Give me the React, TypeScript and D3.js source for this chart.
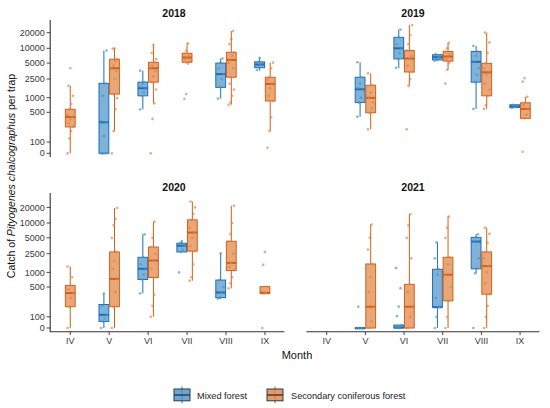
import * as d3 from "d3";

// month classes, forest types and the facet years
const months = ["IV", "V", "VI", "VII", "VIII", "IX"];
const forestNames = ["Mixed forest", "Secondary coniferous forest"];
const yTicks = [0, 100, 500, 1000, 2500, 5000, 10000, 20000];

// [month, forest (M = mixed, S = secondary), lower whisker, q1, median, q3, upper whisker, trap catches]
type Box = [string, "M" | "S", number, number, number, number, number, number[]];

const box2018: Box[] = [
  ["IV", "S", 0, 250, 405, 580, 1800, [0, 130, 200, 250, 300, 360, 405, 450, 580, 750, 1100, 1800, 4000]],
  ["V", "M", 0, 0, 315, 2030, 9000, [0, 0, 0, 0, 0, 150, 315, 330, 1100, 2000, 9000]],
  ["V", "S", 200, 1200, 4000, 6000, 10000, [0, 200, 580, 980, 1200, 2500, 3500, 4000, 4500, 5500, 6000, 9800, 10000]],
  ["VI", "M", 580, 1100, 1600, 2150, 3600, [580, 1100, 1300, 1600, 1700, 2000, 2150, 3600]],
  ["VI", "S", 770, 2150, 4000, 5200, 11700, [0, 370, 770, 1500, 2150, 2800, 3500, 4000, 4500, 5200, 6000, 8000, 11700]],
  ["VII", "S", 4900, 5200, 6500, 7900, 12500, [950, 1200, 4900, 5500, 6000, 6500, 7000, 7900, 9000, 12500]],
  ["VIII", "M", 960, 1670, 3100, 5000, 6200, [960, 1700, 2500, 3100, 4000, 5000, 6200]],
  ["VIII", "S", 720, 2700, 5800, 8300, 21500, [720, 800, 1100, 1500, 2000, 2700, 4000, 5000, 5800, 7000, 8300, 12000, 15000, 21500]],
  ["IX", "M", 3600, 4100, 4700, 5300, 6400, [3700, 4200, 4700, 5000, 5300, 6400]],
  ["IX", "S", 200, 860, 1970, 2700, 5100, [40, 200, 400, 860, 1100, 1600, 2000, 2400, 2700, 4000, 5100]],
];

const box2019: Box[] = [
  ["V", "M", 410, 800, 1520, 2700, 5200, [410, 800, 1000, 1500, 1600, 2000, 2700, 5200]],
  ["V", "S", 220, 490, 990, 1850, 3200, [220, 490, 600, 800, 1000, 1300, 1850, 3200]],
  ["VI", "M", 4050, 6100, 10000, 16300, 23000, [4050, 6100, 8000, 10000, 12000, 16300, 23000]],
  ["VI", "S", 1800, 3400, 6200, 9000, 28000, [220, 1800, 2500, 3400, 4500, 6200, 7000, 9000, 12000, 18000, 28000]],
  ["VII", "M", 5600, 5800, 6600, 7400, 7600, [5600, 6000, 6600, 7000, 7600]],
  ["VII", "S", 3750, 5500, 6800, 8600, 12800, [2000, 3750, 5000, 5500, 6000, 6800, 7500, 8600, 10000, 12800]],
  ["VIII", "M", 590, 2150, 5300, 8600, 11100, [590, 2150, 3000, 4000, 5300, 7000, 8600, 11100]],
  ["VIII", "S", 590, 1100, 3350, 4950, 20000, [590, 700, 1100, 1500, 2000, 3000, 3350, 4000, 4950, 8000, 13000, 20000]],
  ["IX", "M", 630, 630, 680, 720, 720, [620, 650, 680, 700, 720]],
  ["IX", "S", 380, 380, 590, 790, 1050, [10, 380, 450, 590, 700, 790, 1050, 2200, 2600]],
];

const box2020: Box[] = [
  ["IV", "S", 0, 190, 380, 540, 1340, [0, 190, 300, 380, 450, 540, 800, 1340]],
  ["V", "M", 0, 50, 115, 215, 370, [0, 50, 80, 115, 200, 370]],
  ["V", "S", 0, 190, 740, 2700, 19500, [0, 190, 400, 740, 1200, 1800, 2700, 5000, 9000, 12000, 19500]],
  ["VI", "M", 375, 720, 1200, 2100, 5900, [375, 720, 900, 1200, 1500, 2100, 5900]],
  ["VI", "S", 100, 790, 1800, 3350, 10600, [100, 200, 350, 790, 1200, 1800, 2500, 3350, 5000, 10600]],
  ["VII", "M", 2700, 2700, 3550, 3950, 4350, [1000, 2700, 3000, 3550, 3950, 4350]],
  ["VII", "S", 680, 2800, 6400, 11500, 26000, [680, 800, 1500, 2800, 3500, 5000, 6400, 8000, 11500, 15000, 20000, 26000]],
  ["VIII", "M", 290, 305, 390, 700, 2550, [290, 305, 390, 500, 700, 2550]],
  ["VIII", "S", 470, 1100, 1600, 4300, 21500, [470, 600, 800, 1100, 1300, 1600, 2500, 4300, 6000, 10000, 21500]],
  ["IX", "S", 370, 370, 385, 510, 510, [0, 370, 385, 510, 1450, 2700]],
];

const box2021: Box[] = [
  ["V", "M", 0, 0, 0, 0, 0, [0, 0, 0, 0, 190]],
  ["V", "S", 0, 0, 190, 1520, 9300, [0, 0, 50, 190, 400, 800, 1520, 3000, 5000, 9300]],
  ["VI", "M", 0, 0, 3, 20, 20, [0, 0, 0, 20, 105, 190, 475, 1250]],
  ["VI", "S", 0, 0, 190, 570, 14700, [0, 0, 100, 190, 400, 570, 2000, 5000, 9000, 14700]],
  ["VII", "M", 0, 185, 185, 1170, 4100, [0, 100, 185, 190, 300, 900, 1170, 2000, 4100]],
  ["VII", "S", 0, 260, 900, 2100, 13300, [0, 100, 260, 500, 900, 1500, 2100, 5000, 8000, 13300]],
  ["VIII", "M", 960, 1200, 4250, 5100, 5900, [0, 960, 1200, 2000, 4250, 5100, 5900]],
  ["VIII", "S", 0, 360, 1370, 2700, 8000, [0, 100, 200, 360, 600, 1000, 1370, 2000, 2700, 4000, 6000, 8000]],
];

const FONT = "'Liberation Sans', Arial, Helvetica, sans-serif";
const STROKE = { M: "#1f6fb2", S: "#d2601a" };
const FILL = { M: "#4a90c8", S: "#e0813f" };
// where the y tick values sit above the zero line (axis is compressed near zero)
const TICK_OFFSETS = [0, 11.2, 41, 55.6, 74.3, 90.2, 105, 120.6];
const BOX_W = 9.8;
const DODGE = 5.3;

const tf = (v: number) => Math.log10(1 + v / 100);

const panels = [
  { year: "2018", data: box2018, x0: 50.8, x1: 284.4, zero: 153.3, top: 20, bottom: 157, titleX: 174, titleY: 16.5, xAxis: false, yAxis: true },
  { year: "2019", data: box2019, x0: 307.4, x1: 539.4, zero: 153.3, top: 20, bottom: 157, titleX: 413, titleY: 16.5, xAxis: false, yAxis: false },
  { year: "2020", data: box2020, x0: 50.8, x1: 284.4, zero: 328, top: 193, bottom: 331.7, titleX: 174, titleY: 191, xAxis: true, yAxis: true },
  { year: "2021", data: box2021, x0: 307.4, x1: 539.4, zero: 328, top: 193, bottom: 331.7, titleX: 413, titleY: 191, xAxis: true, yAxis: false },
];

function Panel({ p }: { p: (typeof panels)[number] }) {
  const x = d3.scaleBand<string>().domain(months).range([p.x0, p.x1]).padding(0);
  const yScale = d3
    .scaleLinear()
    .domain(yTicks.map(tf))
    .range(TICK_OFFSETS.map((o) => p.zero - o));
  const y = (v: number) => yScale(tf(v));

  const center = (b: Box) => {
    const c = (x(b[0]) ?? 0) + x.bandwidth() / 2;
    const both = p.data.filter((d) => d[0] === b[0]).length > 1;
    if (!both) return c;
    return b[1] === "M" ? c - DODGE : c + DODGE;
  };

  return (
    <g>
      <text x={p.titleX} y={p.titleY} textAnchor="middle" fontWeight="bold" fontSize={10.5} fill="#111">
        {p.year}
      </text>
      {p.yAxis && (
        <g>
          <line x1={p.x0 - 0.6} x2={p.x0 - 0.6} y1={p.top} y2={p.bottom} stroke="#333" strokeWidth={1.1} />
          {yTicks.map((t) => (
            <g key={t}>
              <line x1={p.x0 - 4.2} x2={p.x0 - 0.6} y1={y(t)} y2={y(t)} stroke="#333" strokeWidth={0.9} />
              <text x={p.x0 - 6} y={y(t)} dy="0.35em" textAnchor="end" fontSize={9} fill="#3a3a3a">
                {t}
              </text>
            </g>
          ))}
        </g>
      )}
      {p.xAxis && (
        <g>
          <line x1={p.x0 - 1} x2={p.x1} y1={p.bottom} y2={p.bottom} stroke="#333" strokeWidth={1.1} />
          {months.map((m) => {
            const cx = (x(m) ?? 0) + x.bandwidth() / 2;
            return (
              <g key={m}>
                <line x1={cx} x2={cx} y1={p.bottom} y2={p.bottom + 3.4} stroke="#333" strokeWidth={0.9} />
                <text x={cx} y={p.bottom + 12.5} textAnchor="middle" fontSize={9} fill="#3a3a3a">
                  {m}
                </text>
              </g>
            );
          })}
        </g>
      )}
      {p.data.map((b, bi) => {
        const cx = center(b);
        const [, f, lo, q1, med, q3, hi] = b;
        const yq3 = y(q3);
        const yq1 = y(q1);
        return (
          <g key={bi}>
            <line x1={cx} x2={cx} y1={y(hi)} y2={yq3} stroke={STROKE[f]} strokeWidth={1} />
            <line x1={cx} x2={cx} y1={yq1} y2={y(lo)} stroke={STROKE[f]} strokeWidth={1} />
            <rect
              x={cx - BOX_W / 2}
              y={yq3}
              width={BOX_W}
              height={Math.max(yq1 - yq3, 0.8)}
              fill={FILL[f]}
              fillOpacity={0.7}
              stroke={STROKE[f]}
              strokeWidth={1}
            />
            <line x1={cx - BOX_W / 2} x2={cx + BOX_W / 2} y1={y(med)} y2={y(med)} stroke={STROKE[f]} strokeWidth={2} />
            {b[7].map((v, i) => (
              <circle
                key={i}
                cx={cx + (((i * 37) % 7) - 3) * 0.9}
                cy={y(v)}
                r={1.35}
                fill={FILL[f]}
                fillOpacity={0.65}
              />
            ))}
          </g>
        );
      })}
    </g>
  );
}

function LegendKey({ x, f }: { x: number; f: "M" | "S" }) {
  const cx = x + 8;
  return (
    <g>
      <line x1={cx} x2={cx} y1={386.7} y2={403.3} stroke={STROKE[f]} strokeWidth={1} />
      <rect x={x} y={389} width={16} height={11.8} fill={FILL[f]} fillOpacity={0.8} stroke="#2b3a48" strokeWidth={1} />
      <line x1={x} x2={x + 16} y1={395} y2={395} stroke="#2b3a48" strokeWidth={1.4} />
    </g>
  );
}

export default function App() {
  return (
    <svg
      width={550}
      height={408}
      viewBox="0 0 550 408"
      style={{ position: "absolute", left: 0, top: 0, background: "#fff" }}
      fontFamily={FONT}
    >
      <rect width={550} height={408} fill="#fff" />
      {panels.map((p) => (
        <Panel key={p.year} p={p} />
      ))}
      <text transform="translate(14.5,176) rotate(-90)" textAnchor="middle" fontSize={10.5} fill="#111">
        Catch of <tspan fontStyle="italic">Pityogenes chalcographus</tspan> per trap
      </text>
      <text x={297} y={359} textAnchor="middle" fontSize={11} fill="#111">
        Month
      </text>
      <LegendKey x={174} f="M" />
      <text x={197} y={398.5} fontSize={9.2} fill="#222">
        {forestNames[0]}
      </text>
      <LegendKey x={267} f="S" />
      <text x={291} y={398.5} fontSize={9.2} fill="#222">
        {forestNames[1]}
      </text>
    </svg>
  );
}
